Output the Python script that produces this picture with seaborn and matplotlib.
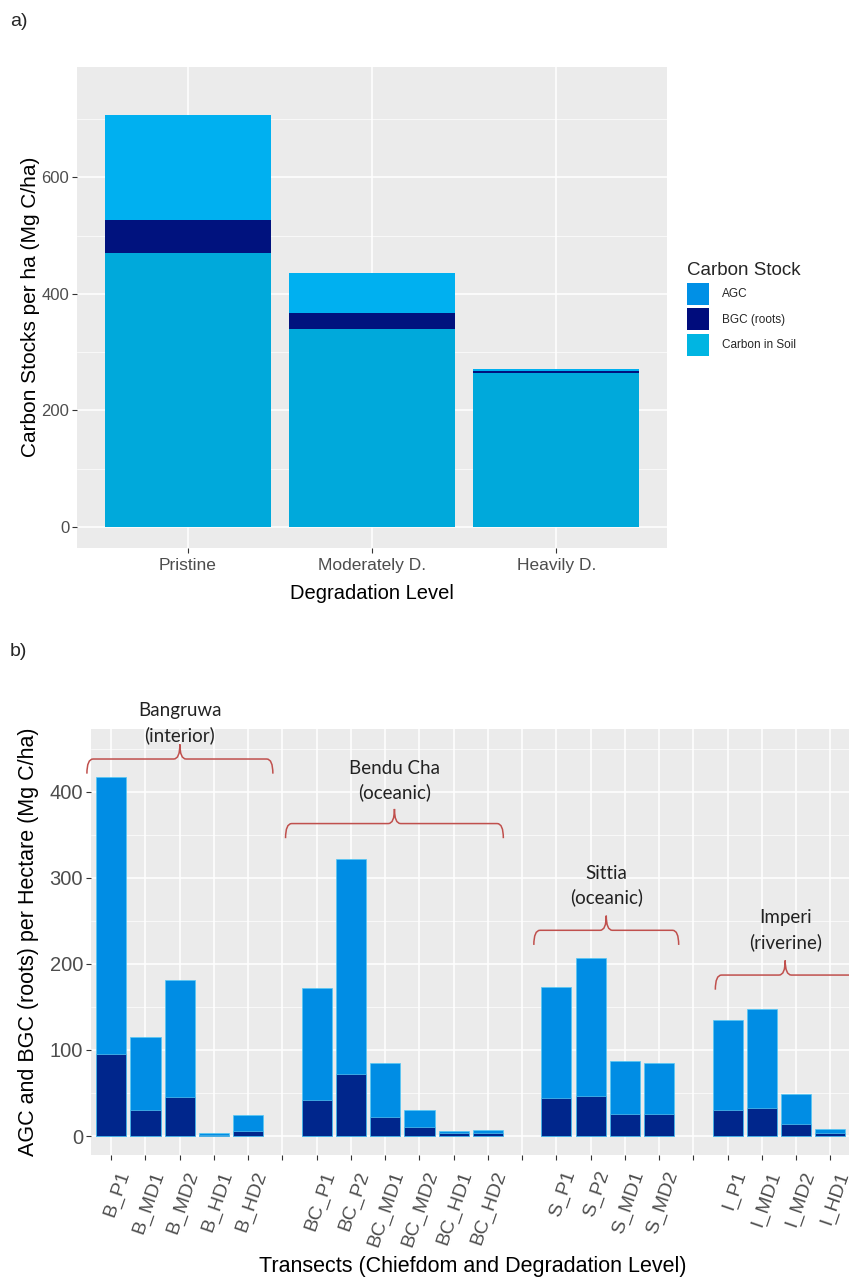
import numpy as np
import pandas as pd
import matplotlib
matplotlib.use("Agg")
import matplotlib.pyplot as plt
import seaborn as sns
from matplotlib.patches import Patch, PathPatch
from matplotlib.path import Path
from matplotlib.ticker import MultipleLocator
from matplotlib.transforms import ScaledTranslation

# ---------------- panel a: carbon stocks by degradation level ----------------
levels = ["Pristine", "Moderately D.", "Heavily D."]
soil_a = [471, 340, 264]
bgc_a = [55, 27, 3]
agc_a = [181, 69, 5]

# ---------------- panel b: AGC / BGC per transect ----------------
transects = ["B_P1", "B_MD1", "B_MD2", "B_HD1", "B_HD2", " ",
             "BC_P1", "BC_P2", "BC_MD1", "BC_MD2", "BC_HD1", "BC_HD2", "  ",
             "S_P1", "S_P2", "S_MD1", "S_MD2", "   ",
             "I_P1", "I_MD1", "I_MD2", "I_HD1"]
bgc_b = [95, 30, 45, 1, 6, np.nan, 42, 72, 22, 10, 3, 3, np.nan,
         44, 46, 26, 26, np.nan, 30, 33, 14, 3]
agc_b = [322, 85, 136, 2, 18, np.nan, 130, 250, 63, 20, 3, 4, np.nan,
         129, 161, 61, 59, np.nan, 105, 114, 35, 5]

# chiefdom brackets: label, x from, x to, bracket y, text y (data units)
groups = [("Bangruwa\n(interior)", -0.71, 4.72, 438, 480),
          ("Bendu Cha\n(oceanic)", 5.09, 11.45, 363, 413),
          ("Sittia\n(oceanic)", 12.34, 16.57, 239, 291),
          ("Imperi\n(riverine)", 17.64, 21.72, 187, 239)]

# colours
COL_A = {"AGC": "#00B0F0", "BGC": "#00127E", "Soil": "#00A9DB"}
COL_LEG = {"AGC": "#0090E6", "BGC (roots)": "#000C7C", "Carbon in Soil": "#00B5E2"}
COL_B = {"AGC": "#008DE4", "BGC": "#00268C"}
BRACE = "#C0504D"
GREY = "#4D4D4D"

sns.set_theme(style="darkgrid", rc={
    "axes.facecolor": "#EBEBEB",
    "grid.color": "white",
    "axes.edgecolor": "white",
    "xtick.color": "#333333",
    "ytick.color": "#333333",
    "xtick.bottom": True,
    "ytick.left": True,
    "xtick.major.size": 3.5,
    "ytick.major.size": 3.5,
    "xtick.major.width": 0.8,
    "ytick.major.width": 0.8,
})
plt.rcParams["font.family"] = ["Liberation Sans", "DejaVu Sans"]


def brace(ax, x0, x1, y, drop=17, rise=17, dx=0.18):
    """Curly bracket drawn in data coordinates."""
    xc = (x0 + x1) / 2
    verts = [(x0, y - drop), (x0, y), (x0 + dx, y),
             (xc - dx, y), (xc, y), (xc, y + rise),
             (xc, y), (xc + dx, y),
             (x1 - dx, y), (x1, y), (x1, y - drop)]
    codes = [Path.MOVETO, Path.CURVE3, Path.CURVE3,
             Path.LINETO, Path.CURVE3, Path.CURVE3,
             Path.CURVE3, Path.CURVE3,
             Path.LINETO, Path.CURVE3, Path.CURVE3]
    ax.add_patch(PathPatch(Path(verts, codes), fill=False, edgecolor=BRACE,
                           lw=1.1, clip_on=False, zorder=5))


fig = plt.figure(figsize=(8.49, 12.81), dpi=100)

# ======================= panel a =======================
ax1 = fig.add_axes([0.0907, 0.5722, 0.695, 0.3758])
df_a = pd.DataFrame({"level": levels, "soil": soil_a, "bgc": bgc_a, "agc": agc_a})
df_a["top"] = df_a["soil"] + df_a["bgc"] + df_a["agc"]
df_a["mid"] = df_a["soil"] + df_a["bgc"]
for col, c in [("top", COL_A["AGC"]), ("mid", COL_A["BGC"]), ("soil", COL_A["Soil"])]:
    sns.barplot(data=df_a, x="level", y=col, order=levels, color=c, saturation=1,
                width=0.9, errorbar=None, linewidth=0, ax=ax1)
ax1.set_xlim(-0.6, 2.6)
ax1.set_ylim(-36, 790)
ax1.set_yticks([0, 200, 400, 600])
ax1.yaxis.set_minor_locator(MultipleLocator(100))
ax1.grid(True, which="major", color="white", lw=1.1)
ax1.grid(True, which="minor", axis="y", color="white", lw=0.5)
ax1.xaxis.grid(True)
ax1.set_axisbelow(True)
ax1.tick_params(axis="y", which="minor", length=0)
ax1.tick_params(axis="y", labelsize=12, labelcolor=GREY, pad=2)
ax1.tick_params(axis="x", labelsize=12.5, labelcolor=GREY, pad=4)
ax1.set_xlabel("Degradation Level", fontsize=14.5, color="black", va="center")
ax1.set_ylabel("Carbon Stocks per ha (Mg C/ha)", fontsize=15, color="black", va="center")
ax1.xaxis.set_label_coords(0.5, -0.0935)
ax1.yaxis.set_label_coords(-0.078, 0.5)
for s in ax1.spines.values():
    s.set_visible(False)

handles = [Patch(facecolor=c, edgecolor="none", label=k) for k, c in COL_LEG.items()]
leg = ax1.legend(handles=handles, title="Carbon Stock", loc="upper left",
                 bbox_to_anchor=(687 / 849, 1 - 262 / 1281), bbox_transform=fig.transFigure,
                 frameon=False, fontsize=8.5, title_fontsize=13.5, handlelength=1.9,
                 handleheight=2.5, labelspacing=0.3, handletextpad=1.1, borderpad=0,
                 borderaxespad=0)
leg._legend_box.align = "left"

fig.text(10 / 849, 1 - 22 / 1281, "a)", fontsize=14, va="center", ha="left")

# ======================= panel b =======================
ax2 = fig.add_axes([0.1068, 0.0984, 0.8955, 0.3326])
df_b = pd.DataFrame({"transect": transects, "bgc": bgc_b, "agc": agc_b}).dropna()
df_b["total"] = df_b["bgc"] + df_b["agc"]
for col, c in [("total", COL_B["AGC"]), ("bgc", COL_B["BGC"])]:
    sns.barplot(data=df_b, x="transect", y=col, order=transects, color=c, saturation=1,
                width=0.88, errorbar=None, edgecolor="#55C8F5", linewidth=0.5, ax=ax2)
ax2.set_xlim(-0.6, 21.6)
ax2.set_ylim(-22, 473)
ax2.set_yticks([0, 100, 200, 300, 400])
ax2.yaxis.set_minor_locator(MultipleLocator(50))
ax2.grid(True, which="major", color="white", lw=1.1)
ax2.grid(True, which="minor", axis="y", color="white", lw=0.5)
ax2.xaxis.grid(True)
ax2.set_axisbelow(True)
ax2.tick_params(axis="y", which="minor", length=0)
ax2.tick_params(axis="y", labelsize=14.5, labelcolor=GREY, pad=2)
ax2.tick_params(axis="x", labelsize=14, labelcolor=GREY, pad=2)
ax2.set_xticks(range(len(transects)))
ax2.set_xticklabels(transects, rotation=71, ha="right", va="top")
shift = ScaledTranslation(22 / 100, -6 / 100, fig.dpi_scale_trans)
for lab in ax2.get_xticklabels():
    lab.set_transform(lab.get_transform() + shift)
ax2.set_xlabel("Transects (Chiefdom and Degradation Level)", fontsize=15.5,
               color="black", va="center")
ax2.set_ylabel("AGC and BGC (roots) per Hectare (Mg C/ha)", fontsize=15.5,
               color="black", va="center")
ax2.xaxis.set_label_coords(0.503, -0.262)
ax2.yaxis.set_label_coords(-0.082, 0.5)
for s in ax2.spines.values():
    s.set_visible(False)

for label, x0, x1, yb, yt in groups:
    brace(ax2, x0, x1, yb)
    ax2.text((x0 + x1) / 2, yt, label, ha="center", va="center", fontsize=13.5,
             family=["Lato", "DejaVu Sans"], color="#222222", linespacing=1.45,
             clip_on=False, zorder=6)

fig.text(10 / 849, 1 - 652 / 1281, "b)", fontsize=14, va="center", ha="left")

fig.savefig("out.png", dpi=100)
